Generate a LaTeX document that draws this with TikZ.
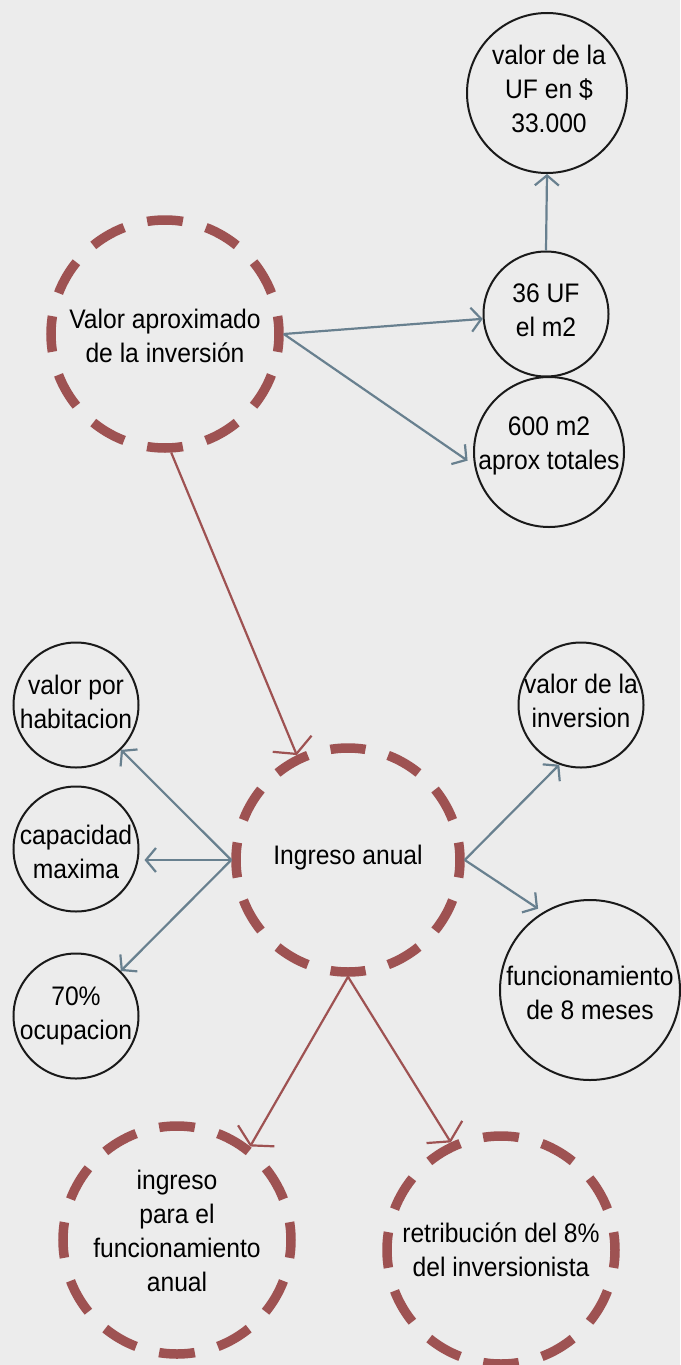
\documentclass[tikz,border=0pt]{standalone}
\usepackage{fontspec}
\setmainfont{Liberation Sans}[FakeStretch=0.92]
\usetikzlibrary{arrows.meta}
\definecolor{bg}{HTML}{ECECEC}
\definecolor{ringred}{HTML}{9E5252}
\definecolor{linkblue}{HTML}{68808F}
\definecolor{inkblack}{HTML}{1A1A1A}
\tikzset{
  solidring/.style={circle, draw=inkblack, line width=2pt, minimum size=#1, inner sep=0pt},
  dashring/.style={circle, draw=ringred, line width=9.5pt, inner sep=0pt,
    minimum size=228pt, dash pattern=on 35.8pt off 23.89pt, dash phase=17.9pt},
  dashringsmall/.style={dashring, minimum size=224pt,
    dash pattern=on 35.2pt off 23.45pt, dash phase=17.6pt},
  txt/.style={align=center, font=\fontsize{26.8}{34}\selectfont, text=black, inner sep=0pt},
  bluelink/.style={draw=linkblue, line width=2.2pt, -{Straight Barb[length=10pt,width=24pt]}},
  redlink/.style={draw=ringred, line width=2.2pt, -{Straight Barb[length=11pt,width=42pt]}},
}
\begin{document}
\begin{tikzpicture}[x=1pt,y=-1pt]
\useasboundingbox (0,0) rectangle (680,1365);
\fill[bg] (0,0) rectangle (680,1365);

% circles
\node[solidring=160pt] (ufv) at (547,93) {};
\node[solidring=125pt] (uf36) at (546,314) {};
\node[solidring=150pt] (m600) at (549,452) {};
\node[dashring] (va) at (165,334) {};
\node[dashringsmall] (ia) at (348,860) {};
\node[solidring=125pt] (vph) at (76,705) {};
\node[solidring=125pt] (cap) at (76,849) {};
\node[solidring=125pt] (ocu) at (76,1016) {};
\node[solidring=125pt] (vinv) at (581,705) {};
\node[solidring=180pt] (fun) at (590,990) {};
\node[dashring] (ing) at (177,1240) {};
\node[dashring] (ret) at (501,1250) {};

% texts
\node[txt] (ufv-t) at (549,89) {valor de la\\UF en \$\\33.000};
\node[txt] (uf36-t) at (546,310) {36 UF\\el m2};
\node[txt] (m600-t) at (549,446) {600 m2\\aprox totales};
\node[txt] (va-t) at (165,336) {Valor aproximado\\de la inversión};
\node[txt] (ia-t) at (348,858) {Ingreso anual};
\node[txt] (vph-t) at (76,702) {valor por\\habitacion};
\node[txt] (cap-t) at (76,852) {capacidad\\maxima};
\node[txt] (ocu-t) at (76,1016) {70\%\\ocupacion};
\node[txt] (vinv-t) at (581,701) {valor de la\\inversion};
\node[txt] (fun-t) at (590,993) {funcionamiento\\de 8 meses};
\node[txt] (ing-t) at (177,1231) {ingreso\\para el\\funcionamiento\\anual};
\node[txt] (ret-t) at (501,1250) {retribución del 8\%\\del inversionista};

% connectors
\draw[bluelink] (va.east) -- (uf36);
\draw[bluelink, shorten >=8pt] (va.east) -- (m600.190);
\draw[bluelink] (uf36.north) -- (ufv.south);
\draw[redlink] (va.273) -- (ia.116);
\draw[bluelink] (ia.west) -- (vph);
\draw[bluelink, shorten >=5pt] (ia.west) -- (ia.west -| cap.east);
\draw[bluelink] (ia.west) -- (ocu);
\draw[bluelink] (ia.east) -- (vinv.250);
\draw[bluelink, shorten >=6pt] (ia.east) -- (fun.121);
\draw[redlink] (ia.south) -- (ing.52);
\draw[redlink] (ia.south) -- (ret.115);
\end{tikzpicture}
\end{document}
